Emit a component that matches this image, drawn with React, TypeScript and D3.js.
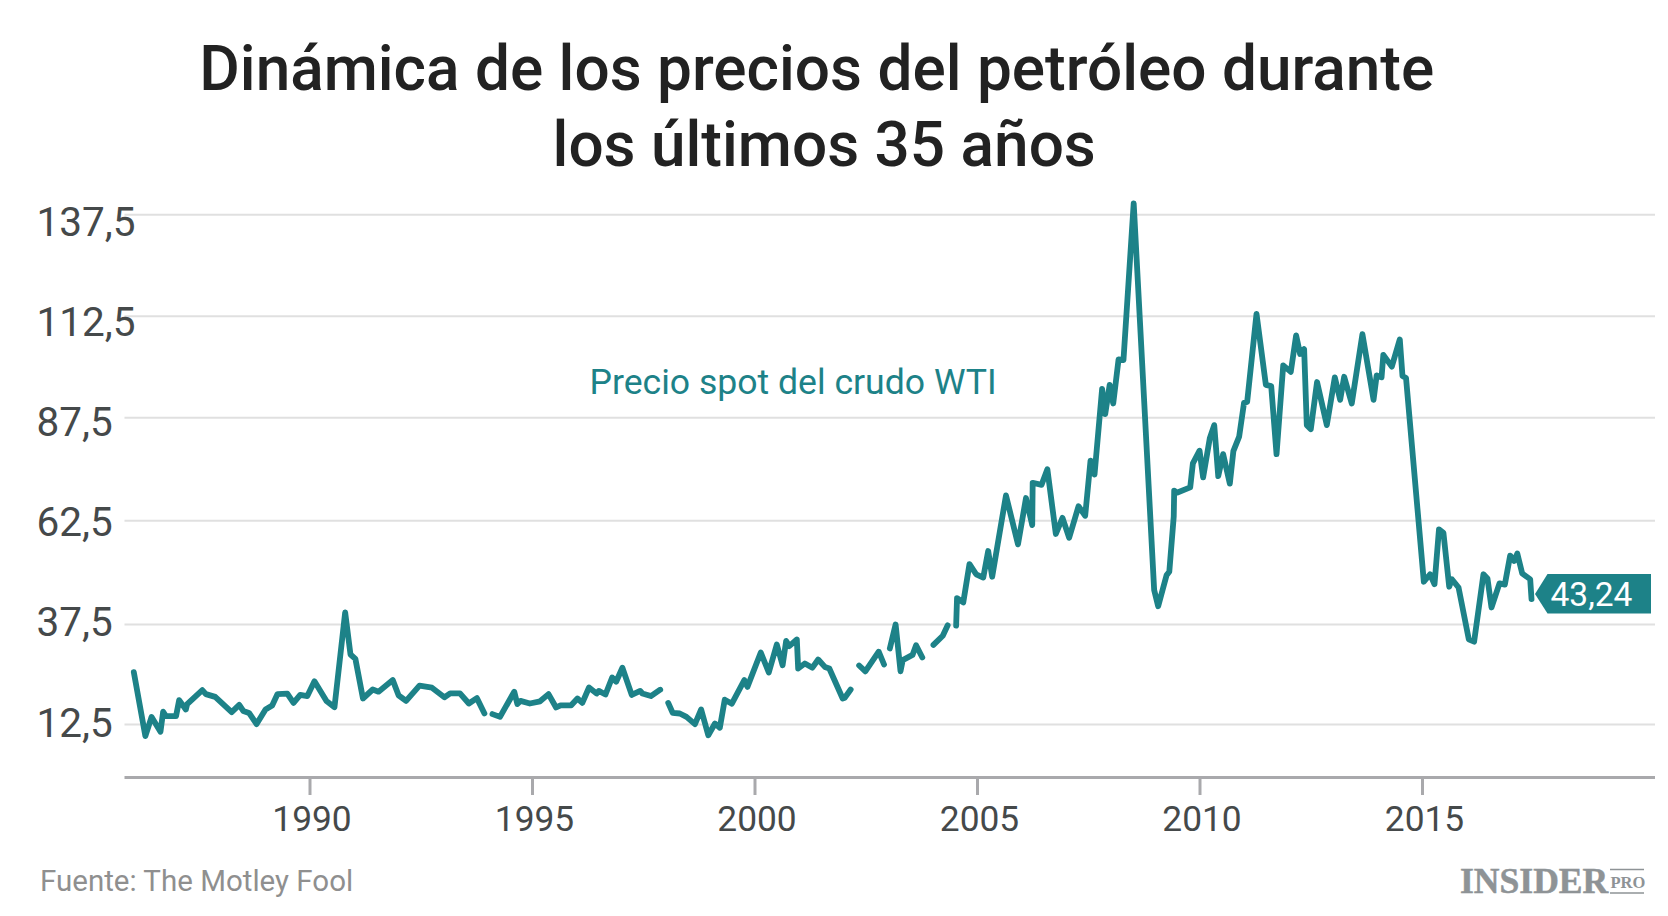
import React from "react";
import * as d3 from "d3";

const titleLines = ["Dinámica de los precios del petróleo durante", "los últimos 35 años"];
const yTicks = [12.5, 37.5, 62.5, 87.5, 112.5, 137.5];
const xTicks = [1990, 1995, 2000, 2005, 2010, 2015];
const seriesLabel = "Precio spot del crudo WTI";
const sourceText = "Fuente: The Motley Fool";
const lastValueLabel = "43,24";

// decimal year, WTI spot price; a null price marks a gap in the line
const years = [
  1986.04,1986.30,1986.44,1986.64,1986.70,1986.76,1986.99,1987.06,1987.21,1987.24,1987.58,1987.66,1987.87,1988.24,1988.41,1988.50,1988.63,1988.80,1989.00,1989.15,1989.27,1989.49,1989.63,1989.78,1989.94,1990.10,1990.37,1990.55,1990.79,1990.91,1991.02,1991.19,1991.41,1991.54,1991.86,1991.99,1992.16,1992.46,1992.74,1993.02,1993.15,1993.37,1993.57,1993.75,1993.92,
  1994.01,
  1994.10,1994.27,1994.59,1994.66,1994.73,1994.94,1995.17,1995.36,1995.53,1995.63,1995.87,1996.01,1996.12,1996.27,1996.44,1996.49,1996.64,1996.79,1996.88,1997.02,1997.23,1997.42,1997.47,1997.66,1997.87,
  1997.96,
  1998.05,1998.15,1998.31,1998.46,1998.65,1998.79,1998.95,1999.10,1999.21,1999.32,1999.48,1999.76,1999.83,2000.13,2000.31,2000.49,2000.62,2000.70,2000.77,2000.94,2000.97,2001.12,2001.29,2001.42,2001.57,2001.67,2001.97,2002.02,2002.15,
  2002.25,
  2002.34,2002.48,2002.78,2002.90,
  2002.96,
  2003.03,2003.16,2003.27,2003.32,2003.54,2003.62,2003.76,
  2003.88,
  2004.01,2004.22,2004.33,
  2004.42,
  2004.52,2004.54,2004.68,2004.82,2004.97,2005.13,2005.24,2005.33,2005.64,2005.91,2006.09,2006.23,2006.24,2006.44,2006.57,2006.76,2006.91,2007.06,2007.27,2007.42,2007.54,2007.63,2007.80,2007.87,2007.97,2008.05,2008.17,2008.28,2008.51,2008.97,2009.06,2009.25,2009.31,2009.41,2009.42,2009.48,2009.78,2009.84,2009.99,2010.07,2010.22,2010.32,2010.41,2010.52,2010.67,2010.75,2010.88,2010.99,2011.06,2011.27,2011.48,2011.60,2011.72,2011.87,2012.04,2012.16,2012.25,2012.34,2012.40,2012.49,2012.63,2012.85,2013.03,2013.15,2013.24,2013.41,2013.65,2013.90,2013.97,2014.08,2014.12,2014.31,2014.49,2014.55,2014.63,2015.03,2015.17,2015.27,2015.37,2015.47,2015.60,2015.66,2015.81,2016.04,2016.16,2016.37,2016.46,2016.55,2016.73,2016.85,2016.97,2017.06,2017.13,2017.24,2017.42,2017.45,
];
const prices: (number | null)[] = [
  25.6,9.6,14.4,10.7,15.7,14.6,14.6,18.6,16.25,17.6,21.1,20.1,19.4,15.6,17.4,15.9,15.4,12.6,16.25,17.25,20.1,20.2,17.9,19.9,19.6,23.3,18.4,16.8,40.4,30,28.9,19,21.25,20.7,23.6,19.8,18.4,22.2,21.7,19.3,20.3,20.3,17.75,19.1,15.25,
  null,
  15.1,14.4,20.7,17.6,18.4,17.75,18.3,20.1,16.75,17.3,17.3,19,17.9,21.75,20.25,20.9,20,24.25,23.2,26.7,19.9,20.9,20.25,19.6,21.2,
  null,
  17.9,15.4,15.25,14.4,12.6,16.25,9.8,12.75,11.7,18.7,17.7,23.6,21.9,30.5,25.5,32.5,27.3,33.4,32.1,33.75,26.5,27.75,26.7,28.75,26.9,26.5,19,19.2,21.25,
  null,
  27.25,25.8,30.7,27.5,
  null,
  31.5,37.5,25.8,28.6,29.9,32.3,29.25,
  null,
  32.4,34.7,37.3,
  null,
  37.2,43.85,42.8,52.05,49.6,48.8,55.2,49,68.65,56.8,68,61.45,71.7,71.2,75,59.3,63.2,58.4,66,63.7,77.1,73.7,94.6,88.4,95.6,91,101.9,101.7,140.3,45.8,41.9,49.4,50.2,63.5,69.8,69.3,70.6,76.4,79.5,73,82.5,85.7,73.3,78.65,71.5,79.4,82.9,91.2,91.4,113.1,95.6,95.3,78.65,100.4,98.8,107.8,103.2,104.4,85.7,84.7,96.3,85.7,97.45,91.9,97.6,91,108.1,91.9,97.95,97.45,103,100.1,106.8,97.8,97.3,47.8,49.6,47.2,60.4,59.6,46.6,48.4,46.4,33.8,33.2,49.6,48.6,41.6,47.4,47.1,54.1,52.8,54.6,49.8,48.4,43.6,
];

const TEAL = "#1d8288";
const x = d3.scaleLinear().domain([1990, 2015]).range([310, 1422.5]);
const y = d3.scaleLinear().domain(yTicks).range([724.5, 624.5, 520.7, 417.7, 316.3, 214.7]);
const yLabel = d3.scaleLinear().domain([12.5, 137.5]).range([736.5, 236]);
const path = d3
  .line<number>()
  .defined((i) => prices[i] !== null)
  .x((i) => x(years[i]))
  .y((i) => y(prices[i] as number))(years.map((_, i) => i)) as string;

const F = "Roboto, sans-serif";
const S = "'Liberation Serif', serif";

export default function App() {
  return (
    <svg width={1668} height={916} style={{ position: "absolute", left: 0, top: 0, background: "#fff" }}>
      <g fontFamily={F} fontWeight={500} fontSize={62.1} fill="#222222" textAnchor="middle">
        <text x={816.8} y={90}>{titleLines[0]}</text>
        <text x={824.2} y={166}>{titleLines[1]}</text>
      </g>
      {yTicks.map((t) => (
        <g key={t}>
          <line x1={124.5} x2={1655} y1={y(t)} y2={y(t)} stroke="#e0e0e0" strokeWidth={2} />
          <text x={36.5} y={yLabel(t)} fontFamily={F} fontSize={40.5} fill="#45494a">
            {String(t).replace(".", ",")}
          </text>
        </g>
      ))}
      <line x1={124.5} x2={1655} y1={777.5} y2={777.5} stroke="#a9a9ac" strokeWidth={3} />
      {xTicks.map((t) => (
        <g key={t}>
          <line x1={x(t)} x2={x(t)} y1={777.5} y2={795} stroke="#a9a9ac" strokeWidth={3} />
          <text x={x(t) + 2} y={831} textAnchor="middle" fontFamily={F} fontSize={35.3} fill="#45494a">{t}</text>
        </g>
      ))}
      <path d={path} fill="none" stroke={TEAL} strokeWidth={5.8} strokeLinejoin="round" strokeLinecap="round" />
      <text x={589.5} y={393.5} fontFamily={F} fontSize={35.6} fill={TEAL}>{seriesLabel}</text>
      <polygon points="1535,594 1547.5,574 1651,574 1651,613.5 1547.5,613.5" fill={TEAL} />
      <text x={1599.5} y={605.5} dx={-8} textAnchor="middle" fontFamily={F} fontSize={33.5} fill="#ffffff">{lastValueLabel}</text>
      <text x={40} y={891} fontFamily={F} fontSize={29.5} fill="#8f8f8f">{sourceText}</text>
      <text x={1460} y={893} fontFamily={S} fontWeight={700} fontSize={35.6} fill="#8e9396" stroke="#8e9396" strokeWidth={0.5}>INSIDER</text>
      <text x={1610.5} y={887.5} fontFamily={S} fontWeight={700} fontSize={16.5} fill="#8e9396">PRO</text>
      <line x1={1610} x2={1644} y1={869.5} y2={869.5} stroke="#8e9396" strokeWidth={1.5} />
      <line x1={1610} x2={1644} y1={893} y2={893} stroke="#8e9396" strokeWidth={1.5} />
    </svg>
  );
}
